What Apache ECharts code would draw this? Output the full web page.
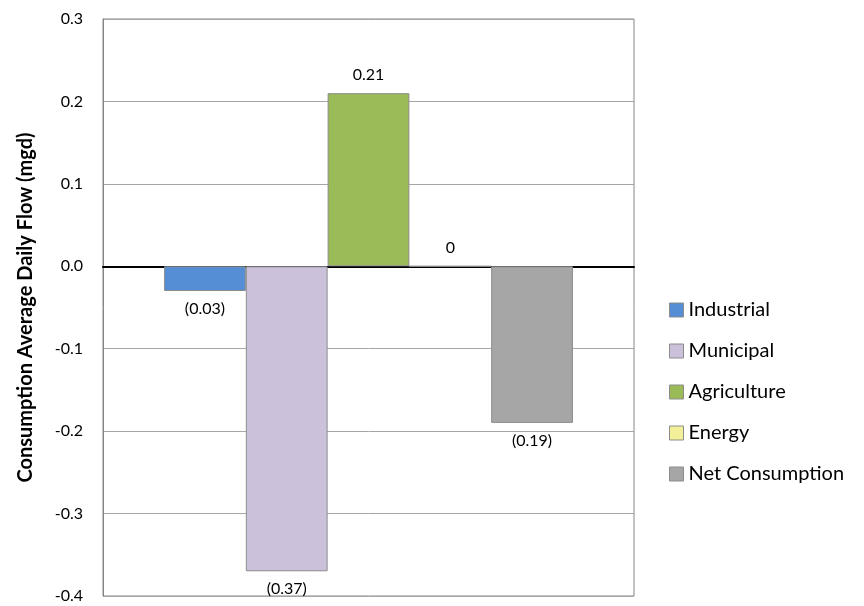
<!DOCTYPE html>
<html lang="en" style="height: 100%">
<head>
  <meta charset="utf-8">
</head>
<body style="height: 100%; margin: 0; background: #fff">
  <div id="container" style="width: 864px; height: 606px"></div>

  <script type="text/javascript" src="https://cdn.jsdelivr.net/npm/echarts@6/dist/echarts.min.js"></script>
  <script type="text/javascript">
    // series names, one value each
    var seriesNames = ['Industrial', 'Municipal', 'Agriculture', 'Energy', 'Net Consumption'];
    var seriesValues = [-0.03, -0.37, 0.21, 0, -0.19];
    var seriesColors = ['#558ED5', '#CCC1DA', '#9BBB59', '#F3F09A', '#A6A6A6'];
    var categories = [''];

    var dom = document.getElementById('container');
    var myChart = echarts.init(dom, null, { renderer: 'canvas' });

    function fmtLabel(p) {
      var v = p.value;
      if (v < 0) return '(' + Math.abs(v).toFixed(2) + ')';
      if (v === 0) return '0';
      return v.toFixed(2);
    }

    var series = seriesNames.map(function (name, i) {
      var v = seriesValues[i];
      return {
        name: name,
        type: 'bar',
        barGap: '0%',
        barCategoryGap: '23%',
        itemStyle: { color: seriesColors[i], borderColor: '#8c8c8c', borderWidth: 1 },
        label: {
          show: true,
          position: v < 0 ? 'bottom' : 'top',
          distance: 10,
          formatter: fmtLabel,
          color: '#000',
          fontSize: 16,
          fontFamily: 'Lato'
        },
        data: [v]
      };
    });

    var option = {
      animation: false,
      textStyle: { fontFamily: 'Lato' },
      grid: {
        left: 103, top: 19, right: 230, bottom: 10,
        show: true, borderColor: '#868686', borderWidth: 1
      },
      legend: {
        orient: 'vertical',
        left: 664,
        top: 295,
        itemWidth: 14,
        itemHeight: 14,
        itemGap: 21,
        icon: 'rect',
        itemStyle: { borderColor: '#8c8c8c', borderWidth: 1 },
        textStyle: { fontSize: 20, color: '#000', fontFamily: 'Lato' },
        data: seriesNames
      },
      xAxis: {
        type: 'category',
        data: categories,
        axisLine: { onZero: true, lineStyle: { color: '#000', width: 2 } },
        axisTick: { show: false },
        axisLabel: { show: false },
        splitLine: { show: false }
      },
      yAxis: {
        type: 'value',
        min: -0.4,
        max: 0.3,
        interval: 0.1,
        name: 'Consumption Average Daily Flow (mgd)',
        nameLocation: 'middle',
        nameGap: 67,
        nameTextStyle: { fontSize: 20, fontWeight: 'bold', color: '#000', fontFamily: 'Lato' },
        axisLine: { show: true, lineStyle: { color: '#868686' } },
        axisTick: { show: false },
        axisLabel: {
          margin: 20,
          fontSize: 16,
          color: '#000',
          formatter: function (v) { return v.toFixed(1); }
        },
        splitLine: { lineStyle: { color: '#a6a6a6' } }
      },
      series: series
    };

    myChart.setOption(option);
    window.addEventListener('resize', myChart.resize);
  </script>
</body>
</html>
